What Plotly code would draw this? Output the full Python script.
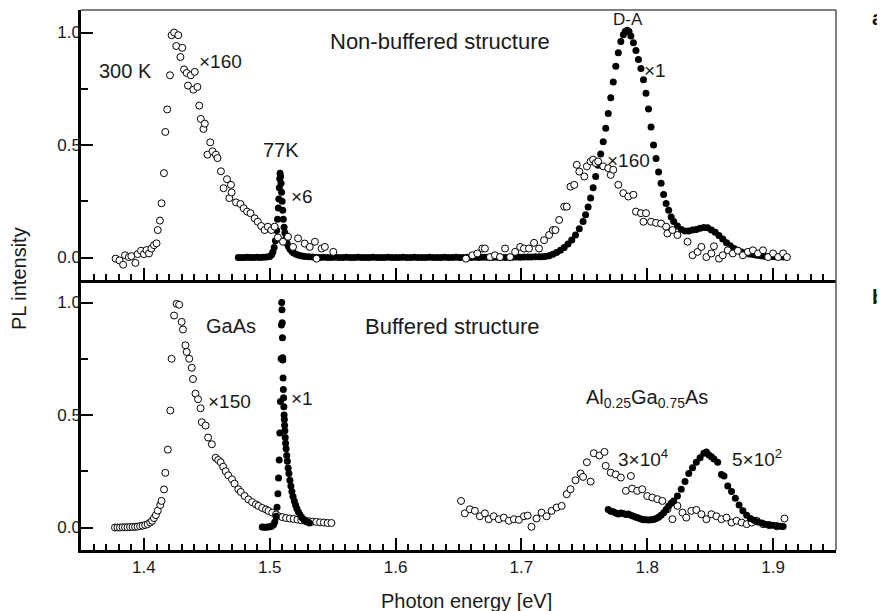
import plotly.graph_objects as go
from plotly.subplots import make_subplots

# ---------------- Panel a: Non-buffered structure ----------------
# 300 K, x160 (open circles)
a_open_x = [1.3775, 1.3806, 1.3835, 1.385, 1.388, 1.390, 1.3932, 1.395, 1.3977, 1.400, 1.402, 1.404,
            1.406, 1.408, 1.410, 1.411, 1.4127, 1.414, 1.4159, 1.417, 1.4185, 1.4207, 1.422, 1.424,
            1.4257, 1.4273, 1.429, 1.4305, 1.4319, 1.434, 1.435, 1.4372, 1.4393, 1.4404, 1.4425, 1.444,
            1.4452, 1.4473, 1.4484, 1.4505, 1.4527, 1.4545, 1.4572, 1.4585, 1.4612, 1.4633, 1.4660,
            1.4679, 1.4692, 1.4697, 1.4732, 1.4767, 1.4793, 1.482, 1.4847, 1.488, 1.4905, 1.4932,
            1.4959, 1.4985, 1.5012, 1.5039, 1.5065, 1.5105, 1.5145, 1.5185, 1.5225, 1.5278, 1.5318,
            1.5359, 1.5372, 1.5412, 1.5438, 1.5505,
            None,
            1.6559, 1.661, 1.665, 1.669, 1.671, 1.675, 1.679, 1.683, 1.687, 1.691, 1.695, 1.699, 1.702,
            1.706, 1.710, 1.714, 1.718, 1.722, 1.725, 1.727, 1.730, 1.734, 1.736, 1.739, 1.742, 1.744,
            1.746, 1.750, 1.752, 1.755, 1.757, 1.759, 1.761, 1.765, 1.769, 1.771, 1.773, 1.777, 1.781,
            1.785, 1.789, 1.791, 1.795, 1.797, 1.799, 1.803, 1.807, 1.811, 1.815, 1.816, 1.820, 1.824,
            1.832, 1.836, 1.840, 1.843, 1.847, 1.851, 1.853, 1.857, 1.860, 1.864, 1.868, 1.872, 1.876,
            1.880, 1.884, 1.888, 1.892, 1.896, 1.900, 1.904, 1.908, 1.911]
a_open_y = [-0.005, -0.013, -0.032, 0.010, 0.002, 0.006, -0.024, 0.015, 0.030, 0.015, 0.033, 0.018,
            0.040, 0.055, 0.063, 0.122, 0.164, 0.241, 0.375, 0.558, 0.658, 0.810, 0.988, 1.000,
            0.940, 0.988, 0.891, 0.932, 0.836, 0.820, 0.764, 0.810, 0.746, 0.825, 0.758, 0.675,
            0.616, 0.571, 0.595, 0.457, 0.512, 0.472, 0.457, 0.442, 0.383, 0.308, 0.348,
            0.264, 0.323, 0.289, 0.245, 0.238, 0.219, 0.204, 0.197, 0.174, 0.159, 0.140,
            0.122, 0.137, 0.122, 0.137, 0.089, 0.070, 0.092, 0.047, 0.085, 0.062, 0.047,
            0.070, -0.005, 0.040, 0.047, 0.025,
            None,
            -0.005, 0.010, 0.018, 0.040, 0.040, 0.002, 0.010, 0.002, 0.040, 0.002, 0.025, 0.047, 0.040,
            0.040, 0.065, 0.040, 0.077, 0.100, 0.122, 0.122, 0.167, 0.226, 0.226, 0.315, 0.323, 0.412,
            0.382, 0.360, 0.405, 0.427, 0.435, 0.420, 0.427, 0.405, 0.397, 0.367, 0.390, 0.323, 0.286,
            0.271, 0.279, 0.204, 0.197, 0.159, 0.197, 0.159, 0.154, 0.151, 0.137, 0.107, 0.122, 0.100,
            0.070, 0.010, 0.025, 0.047, 0.002, 0.018, 0.050, -0.005, 0.010, 0.032, 0.018, 0.030, 0.010,
            0.025, 0.032, 0.018, 0.032, 0.002, 0.018, 0.002, 0.018, 0.002]

# 77 K (x6 GaAs peak, x1 D-A band) (filled circles)
a_fill_x = [1.4750, 1.4775, 1.4800, 1.4825, 1.4850, 1.4875, 1.4900, 1.4925, 1.4950, 1.4975, 1.5000,
            1.5015, 1.5025, 1.5035, 1.5045, 1.5055, 1.5062, 1.5068, 1.5072, 1.5076, 1.5079, 1.5082,
            1.5086, 1.5090, 1.5094, 1.5098, 1.5103, 1.5108, 1.5114, 1.5120, 1.5128, 1.5137, 1.5148,
            1.5160, 1.5175, 1.5190, 1.5210, 1.5230, 1.5255, 1.5280, 1.5310, 1.5340,
            1.537, 1.540, 1.543, 1.546, 1.549, 1.552, 1.555, 1.558, 1.561, 1.564, 1.567, 1.570,
            1.573, 1.576, 1.579, 1.582, 1.585, 1.588, 1.591, 1.594, 1.597, 1.600, 1.603, 1.606,
            1.609, 1.612, 1.615, 1.618, 1.621, 1.624, 1.627, 1.630, 1.633, 1.636, 1.639, 1.642,
            1.645, 1.648, 1.651, 1.654, 1.657, 1.660, 1.663, 1.666, 1.669, 1.672, 1.675, 1.678,
            1.681, 1.684, 1.687, 1.690, 1.693, 1.696, 1.699, 1.702, 1.705, 1.708, 1.711, 1.714,
            1.7165, 1.7190, 1.7220, 1.7250, 1.7280, 1.7310, 1.7340, 1.7370, 1.7400, 1.7430, 1.7460,
            1.7490, 1.7510, 1.7530, 1.7550, 1.7570, 1.7590, 1.7610, 1.7630, 1.7650, 1.7670, 1.7690,
            1.7710, 1.7730, 1.7750, 1.7770, 1.7790, 1.7810, 1.7825, 1.7840, 1.7855, 1.7870, 1.7890,
            1.7910, 1.7930, 1.7950, 1.7970, 1.7990, 1.8010, 1.8030, 1.8050, 1.8070, 1.8090, 1.8110,
            1.8130, 1.8150, 1.8170, 1.8190, 1.8210, 1.8240, 1.8270, 1.8300, 1.8330, 1.8360, 1.8390,
            1.8420, 1.8450, 1.8480, 1.8510, 1.8540, 1.8570, 1.8600, 1.8630, 1.8660, 1.8690, 1.8720,
            1.8750, 1.8780, 1.8810, 1.8840, 1.8870, 1.8900, 1.8930, 1.8960, 1.8990, 1.9020, 1.9050,
            1.9080]
a_fill_y = [0.000, 0.000, 0.000, 0.001, 0.000, 0.000, 0.001, 0.000, 0.001, 0.002, 0.005,
            0.012, 0.025, 0.045, 0.075, 0.120, 0.170, 0.220, 0.260, 0.310, 0.350, 0.375,
            0.360, 0.330, 0.290, 0.250, 0.210, 0.170, 0.135, 0.110, 0.085, 0.065, 0.050,
            0.038, 0.028, 0.020, 0.014, 0.010, 0.007, 0.005, 0.003, 0.002,
            0.001, 0.000, 0.001, 0.000, 0.000, 0.001, 0.000, 0.000, 0.001, 0.000, 0.000, 0.001,
            0.000, 0.000, 0.000, 0.001, 0.000, 0.000, 0.000, 0.001, 0.000, 0.000, 0.000, 0.001,
            0.000, 0.000, 0.001, 0.000, 0.000, 0.000, 0.001, 0.000, 0.000, 0.000, 0.001, 0.000,
            0.000, 0.001, 0.000, 0.000, 0.001, 0.000, 0.001, 0.000, 0.001, 0.001, 0.000, 0.001,
            0.001, 0.001, 0.000, 0.001, 0.001, 0.002, 0.001, 0.002, 0.002, 0.002, 0.003, 0.003,
            0.003, 0.004, 0.008, 0.014, 0.022, 0.032, 0.045, 0.060, 0.078, 0.100, 0.128,
            0.160, 0.190, 0.225, 0.265, 0.310, 0.360, 0.410, 0.460, 0.515, 0.575, 0.640,
            0.710, 0.780, 0.850, 0.910, 0.960, 0.990, 1.005, 1.010, 1.005, 0.985, 0.955,
            0.920, 0.880, 0.840, 0.790, 0.730, 0.660, 0.580, 0.500, 0.440, 0.380, 0.330,
            0.280, 0.240, 0.210, 0.180, 0.160, 0.140, 0.125, 0.118, 0.118, 0.122, 0.125,
            0.130, 0.133, 0.132, 0.122, 0.112, 0.098, 0.082, 0.066, 0.052, 0.040, 0.032,
            0.025, 0.020, 0.016, 0.013, 0.010, 0.008, 0.006, 0.005, 0.004, 0.003, 0.003,
            0.002]

# ---------------- Panel b: Buffered structure ----------------
# GaAs x150 (open circles)
b_gaas_open_x = [1.377, 1.379, 1.381, 1.383, 1.385, 1.387, 1.389, 1.391, 1.393, 1.395, 1.397, 1.399,
                 1.401, 1.403, 1.405, 1.4065, 1.408, 1.4095, 1.411, 1.413, 1.414, 1.416, 1.417, 1.419,
                 1.421, 1.422, 1.424, 1.426, 1.428, 1.430, 1.431, 1.433, 1.434, 1.436, 1.438, 1.439,
                 1.441, 1.443, 1.445, 1.446, 1.449, 1.451, 1.454, 1.457, 1.459, 1.461, 1.463, 1.465,
                 1.467, 1.470, 1.472, 1.475, 1.477, 1.480, 1.483, 1.486, 1.489, 1.491, 1.494, 1.497,
                 1.499, 1.502, 1.505, 1.507, 1.510, 1.513, 1.516, 1.519, 1.522, 1.525, 1.528, 1.531,
                 1.534, 1.537, 1.540, 1.543, 1.546, 1.549]
b_gaas_open_y = [0.000, 0.000, 0.000, 0.001, 0.001, 0.001, 0.002, 0.002, 0.003, 0.004, 0.006, 0.008,
                 0.011, 0.015, 0.022, 0.030, 0.042, 0.055, 0.075, 0.100, 0.118, 0.169, 0.243, 0.346,
                 0.520, 0.750, 0.942, 0.994, 0.990, 0.914, 0.880, 0.810, 0.780, 0.750, 0.710, 0.660,
                 0.595, 0.570, 0.530, 0.468, 0.453, 0.400, 0.370, 0.310, 0.300, 0.290, 0.270, 0.250,
                 0.232, 0.214, 0.195, 0.170, 0.158, 0.140, 0.125, 0.113, 0.103, 0.096, 0.087, 0.080,
                 0.074, 0.066, 0.058, 0.050, 0.046, 0.042, 0.040, 0.038, 0.035, 0.032, 0.030, 0.028,
                 0.026, 0.025, 0.023, 0.022, 0.020, 0.020]

# GaAs x1 (filled circles)
b_gaas_fill_x = [1.4940, 1.4955, 1.4970, 1.4985, 1.5000, 1.5015, 1.5030, 1.5040, 1.5050, 1.5058,
                 1.5065, 1.5070, 1.5075, 1.5080, 1.5085, 1.5090, 1.5093, 1.5095, 1.5097, 1.5099,
                 1.5101, 1.5103, 1.5104, 1.5106, 1.5108, 1.5110, 1.5112, 1.5114, 1.5116, 1.5118,
                 1.5120, 1.5123, 1.5126, 1.5130, 1.5135, 1.5140, 1.5146, 1.5152, 1.5160, 1.5168,
                 1.5176, 1.5185, 1.5195, 1.5205, 1.5215, 1.5227, 1.5240, 1.5255, 1.5270, 1.5285,
                 1.5300, 1.5315]
b_gaas_fill_y = [0.002, 0.001, 0.001, 0.002, 0.003, 0.006, 0.012, 0.025, 0.050, 0.090,
                 0.150, 0.220, 0.300, 0.420, 0.560, 0.750, 0.900, 1.000, 0.968, 0.910,
                 0.843, 0.754, 0.745, 0.665, 0.613, 0.577, 0.537, 0.500, 0.480, 0.455,
                 0.430, 0.400, 0.375, 0.350, 0.320, 0.295, 0.265, 0.240, 0.210, 0.185,
                 0.160, 0.138, 0.118, 0.100, 0.085, 0.070, 0.057, 0.045, 0.036, 0.029,
                 0.024, 0.020]

# Al0.25Ga0.75As 3x10^4 (open circles)
b_algaas_open_x = [1.652, 1.655, 1.659, 1.663, 1.667, 1.671, 1.674, 1.678, 1.682, 1.686, 1.690, 1.694,
                   1.698, 1.702, 1.705, 1.708, 1.712, 1.716, 1.720, 1.724, 1.728, 1.732, 1.736, 1.739,
                   1.743, 1.747, 1.749, 1.752, 1.755, 1.7575, 1.762, 1.766, 1.767, 1.771, 1.775, 1.779,
                   1.783, 1.787, 1.788, 1.792, 1.796, 1.800, 1.804, 1.808, 1.812, 1.816, 1.820, 1.824,
                   1.828, 1.831, 1.835, 1.839, 1.843, 1.847, 1.851, 1.855, 1.859, 1.863, 1.867, 1.871,
                   1.875, 1.879, 1.883, 1.887, 1.892, 1.897, 1.903, 1.909]
b_algaas_open_y = [0.118, 0.063, 0.081, 0.074, 0.050, 0.063, 0.037, 0.050, 0.037, 0.044, 0.030, 0.037,
                   0.034, 0.050, 0.053, 0.003, 0.040, 0.066, 0.050, 0.074, 0.089, 0.096, 0.148, 0.170,
                   0.210, 0.240, 0.225, 0.290, 0.204, 0.330, 0.320, 0.336, 0.274, 0.244, 0.236, 0.222,
                   0.163, 0.229, 0.173, 0.163, 0.170, 0.140, 0.133, 0.126, 0.118, 0.081, 0.037, 0.096,
                   0.066, 0.044, 0.074, 0.078, 0.059, 0.037, 0.059, 0.050, 0.037, 0.044, 0.022, 0.030,
                   0.022, 0.015, 0.022, 0.030, 0.015, 0.010, 0.005, 0.040]

# Al0.25Ga0.75As 5x10^2 (filled circles)
b_algaas_fill_x = [1.7690, 1.7710, 1.7730, 1.7750, 1.7770, 1.7790, 1.7810, 1.7830, 1.7850, 1.7870,
                   1.7890, 1.7910, 1.7930, 1.7950, 1.7970, 1.7990, 1.8010, 1.8030, 1.8050, 1.8070,
                   1.8090, 1.8110, 1.8130, 1.8150, 1.8170, 1.8190, 1.8210, 1.8240, 1.8270, 1.8300,
                   1.8330, 1.8360, 1.8390, 1.8420, 1.8450, 1.8470, 1.8490, 1.8510, 1.8530, 1.8560,
                   1.8590, 1.8610, 1.8640, 1.8670, 1.8700, 1.8730, 1.8760, 1.8790, 1.8820, 1.8850,
                   1.8880, 1.8910, 1.8940, 1.8970, 1.9000, 1.9030, 1.9060, 1.9080]
b_algaas_fill_y = [0.080, 0.072, 0.070, 0.064, 0.060, 0.064, 0.062, 0.058, 0.060, 0.055,
                   0.050, 0.046, 0.042, 0.038, 0.035, 0.034, 0.033, 0.034, 0.036, 0.040,
                   0.046, 0.055, 0.066, 0.080, 0.096, 0.108, 0.118, 0.140, 0.170, 0.205,
                   0.240, 0.266, 0.290, 0.310, 0.330, 0.336, 0.322, 0.314, 0.305, 0.290,
                   0.236, 0.229, 0.185, 0.160, 0.130, 0.100, 0.075, 0.055, 0.040, 0.032,
                   0.025, 0.020, 0.015, 0.012, 0.010, 0.008, 0.006, 0.005]

x_range = [1.35, 1.95]
y_range = [-0.1, 1.1]

FONT = "Liberation Sans, Arial, sans-serif"
TXT = "#1a1a1a"

fig = make_subplots(rows=2, cols=1, shared_xaxes=True, vertical_spacing=0.0)

fill_marker = dict(symbol="circle", size=7, color="black", line=dict(width=0))
open_marker = dict(symbol="circle", size=7, color="white", line=dict(color="black", width=1))

fig.add_trace(go.Scatter(x=a_fill_x, y=a_fill_y, mode="markers", marker=fill_marker,
                         name="77K", showlegend=False), row=1, col=1)
fig.add_trace(go.Scatter(x=a_open_x, y=a_open_y, mode="markers", marker=open_marker,
                         name="300 K", showlegend=False), row=1, col=1)

fig.add_trace(go.Scatter(x=b_gaas_open_x, y=b_gaas_open_y, mode="markers", marker=open_marker,
                         name="GaAs 300K", showlegend=False), row=2, col=1)
fig.add_trace(go.Scatter(x=b_gaas_fill_x, y=b_gaas_fill_y, mode="markers", marker=fill_marker,
                         name="GaAs 77K", showlegend=False), row=2, col=1)
fig.add_trace(go.Scatter(x=b_algaas_open_x, y=b_algaas_open_y, mode="markers", marker=open_marker,
                         name="AlGaAs 300K", showlegend=False), row=2, col=1)
fig.add_trace(go.Scatter(x=b_algaas_fill_x, y=b_algaas_fill_y, mode="markers", marker=fill_marker,
                         name="AlGaAs 77K", showlegend=False), row=2, col=1)

xax = dict(range=x_range, tickmode="linear", tick0=1.4, dtick=0.1, tickformat=".1f",
           ticks="inside", ticklen=12, tickwidth=1.5, tickcolor="black",
           minor=dict(tickmode="linear", tick0=1.4, dtick=0.01, ticks="inside", ticklen=6,
                      tickwidth=1.5, tickcolor="black"),
           showline=True, linewidth=2.5, linecolor="black", mirror=False,
           showgrid=False, zeroline=False,
           tickfont=dict(family=FONT, size=17, color=TXT))
yax = dict(range=y_range, tickmode="linear", tick0=0, dtick=0.5, tickformat=".1f",
           ticks="inside", ticklen=12, tickwidth=1.5, tickcolor="black",
           minor=dict(tickmode="linear", tick0=0, dtick=0.25, ticks="inside", ticklen=7,
                      tickwidth=1.5, tickcolor="black"),
           showline=True, linewidth=2.5, linecolor="black", mirror=False,
           showgrid=False, zeroline=False, ticklabelstandoff=-6,
           tickfont=dict(family=FONT, size=17, color=TXT))

fig.update_xaxes(**xax)
fig.update_yaxes(**yax)
fig.update_layout(yaxis=dict(domain=[0.5, 1.0]), yaxis2=dict(domain=[0.0, 0.5]))

# thin frame lines (top and right)
frame = dict(color="#555555", width=1.5)
fig.add_shape(type="line", xref="x domain", yref="y domain", x0=0, x1=1, y0=1, y1=1, line=frame)
fig.add_shape(type="line", xref="x domain", yref="y domain", x0=1, x1=1, y0=0, y1=1, line=frame)
fig.add_shape(type="line", xref="x2 domain", yref="y2 domain", x0=1, x1=1, y0=0, y1=1, line=frame)

def ann(text, x, y, xref, yref, size=20, **kw):
    fig.add_annotation(text=text, x=x, y=y, xref=xref, yref=yref, showarrow=False,
                       xanchor="center", yanchor="middle",
                       font=dict(family=FONT, size=size, color=TXT), **kw)

# panel a
ann("300 K", 1.385, 0.83, "x", "y")
ann("×160", 1.461, 0.87, "x", "y", size=19)
ann("77K", 1.509, 0.479, "x", "y")
ann("×6", 1.526, 0.27, "x", "y", size=19)
ann("Non-buffered structure", 1.635, 0.96, "x", "y", size=22)
ann("D-A", 1.785, 1.058, "x", "y", size=17)
ann("×1", 1.806, 0.832, "x", "y", size=19)
ann("×160", 1.785, 0.43, "x", "y", size=19)
# panel b
ann("GaAs", 1.469, 0.894, "x2", "y2")
ann("×150", 1.468, 0.558, "x2", "y2", size=19)
ann("×1", 1.526, 0.572, "x2", "y2", size=19)
ann("Buffered structure", 1.645, 0.894, "x2", "y2", size=22)
ann("Al<sub>0.25</sub>Ga<sub>0.75</sub>As", 1.80, 0.575, "x2", "y2")
ann("3×10<sup>4</sup>", 1.797, 0.31, "x2", "y2", size=19)
ann("5×10<sup>2</sup>", 1.887, 0.31, "x2", "y2", size=19)

# axis titles and panel letters
ann("PL intensity", -0.082, 0.502, "paper", "paper", textangle=-90)
ann("Photon energy [eV]", 0.511, -0.094, "paper", "paper")
ann("<b>a</b>", 1.0556, 0.985, "paper", "paper")
ann("<b>b</b>", 1.0556, 0.4685, "paper", "paper")

# page body has an 8px default margin: size the figure so the plot lands where the reference has it
fig.update_layout(width=877, height=603, margin=dict(l=73, r=49, t=2, b=61),
                  paper_bgcolor="white", plot_bgcolor="white", showlegend=False,
                  font=dict(family=FONT, color=TXT))

fig.write_html("out.html")
